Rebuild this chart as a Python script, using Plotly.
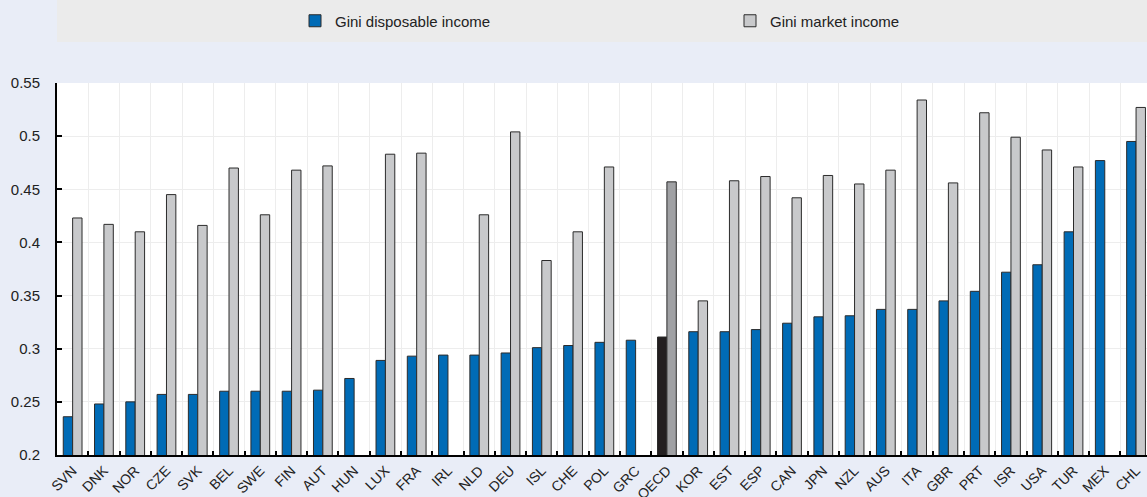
import plotly.graph_objects as go

countries = ["SVN","DNK","NOR","CZE","SVK","BEL","SWE","FIN","AUT","HUN","LUX","FRA","IRL","NLD","DEU","ISL","CHE","POL","GRC","OECD","KOR","EST","ESP","CAN","JPN","NZL","AUS","ITA","GBR","PRT","ISR","USA","TUR","MEX","CHL"]
gini_disposable = [0.236,0.248,0.250,0.257,0.257,0.260,0.260,0.260,0.261,0.272,0.289,0.293,0.294,0.294,0.296,0.301,0.303,0.306,0.308,0.311,0.316,0.316,0.318,0.324,0.330,0.331,0.337,0.337,0.345,0.354,0.372,0.379,0.410,0.477,0.495]
gini_market = [0.423,0.417,0.410,0.445,0.416,0.470,0.426,0.468,0.472,None,0.483,0.484,None,0.426,0.504,0.383,0.410,0.471,None,0.457,0.345,0.458,0.462,0.442,0.463,0.455,0.468,0.534,0.456,0.522,0.499,0.487,0.471,None,0.527]
y_ticks = [0.2,0.25,0.3,0.35,0.4,0.45,0.5,0.55]
y_labels = ["0.2","0.25","0.3","0.35","0.4","0.45","0.5","0.55"]

BLUE = "#006BB6"
GRAY = "#C8C9CB"
blue_colors = ["#231F20" if c == "OECD" else BLUE for c in countries]
gray_colors = ["#A0A1A4" if c == "OECD" else GRAY for c in countries]

FONT = "Liberation Sans, Arial, sans-serif"

fig = go.Figure()
fig.add_trace(go.Bar(x=countries, y=gini_disposable, name="Gini disposable income",
                     marker=dict(color=blue_colors, line=dict(color="#2b2b2b", width=1))))
fig.add_trace(go.Bar(x=countries, y=gini_market, name="Gini market income",
                     marker=dict(color=gray_colors, line=dict(color="#2b2b2b", width=1))))

# legend background band
fig.add_shape(type="rect", xref="paper", yref="paper", x0=0, x1=1.01,
              y0=(455-42)/372, y1=(455-0)/372, fillcolor="#EBEBEB", line=dict(width=0), layer="below")

fig.update_layout(
    width=1147, height=497,
    margin=dict(l=57, r=0, t=83, b=42, autoexpand=False),
    paper_bgcolor="#E9EDF7",
    plot_bgcolor="#FFFFFF",
    barmode="group",
    bargap=0.4,
    bargroupgap=0,
    font=dict(family=FONT, size=15, color="#222222"),
    showlegend=True,
    legend=dict(orientation="h", x=(295-57)/1090, y=(455-21)/372, xanchor="left", yanchor="middle",
                bgcolor="rgba(0,0,0,0)", entrywidth=390, entrywidthmode="pixels",
                font=dict(family=FONT, size=15, color="#222222"), traceorder="normal"),
    xaxis=dict(type="category", tickson="boundaries", showgrid=True, gridcolor="#EDEDED", gridwidth=1,
               ticks="inside", ticklen=4, tickcolor="#000000", tickwidth=2, automargin=False,
               showline=True, linecolor="#000000", linewidth=2,
               tickangle=-45, tickfont=dict(family=FONT, size=14), range=[-0.5, 34.35]),
    yaxis=dict(range=[0.2, 0.55], tickvals=y_ticks, ticktext=y_labels, automargin=False,
               showgrid=True, gridcolor="#EDEDED", gridwidth=1,
               showline=True, linecolor="#000000", linewidth=2, zeroline=False,
               ticks="inside", ticklen=5, tickcolor="#000000", tickwidth=1.5,
               ticklabelstandoff=12, tickfont=dict(family=FONT, size=15)),
)

fig.write_html("out.html", config={"displayModeBar": False},
               post_script="document.body.style.margin='0';document.body.style.overflow='hidden';")
